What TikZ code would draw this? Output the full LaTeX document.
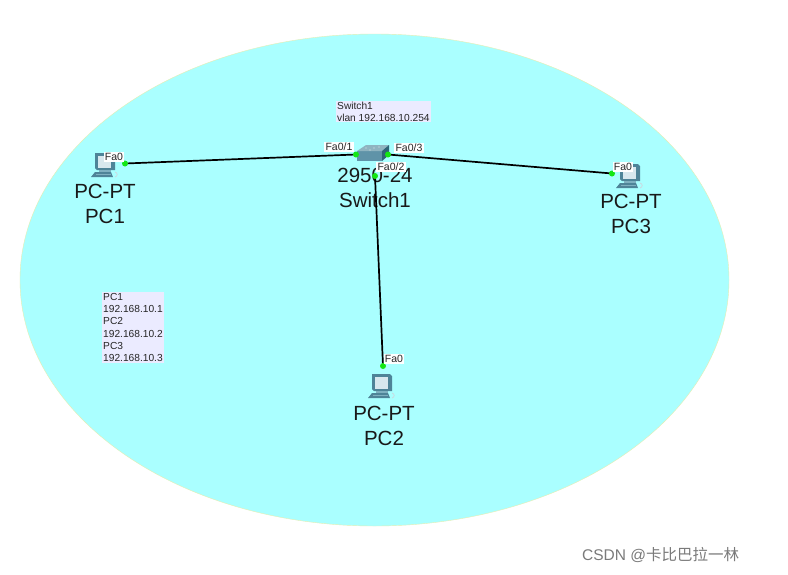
\documentclass[tikz,border=0pt]{standalone}
\usepackage{fontspec}
\usetikzlibrary{shapes.geometric}
\setmainfont{Liberation Sans}
\newfontfamily\cjk{Noto Sans CJK SC}
\definecolor{cloud}{HTML}{AAFFFF}
\definecolor{cloudedge}{HTML}{E6EDB0}
\definecolor{pcdark}{HTML}{4E8498}
\definecolor{pcmid}{HTML}{7FB0C0}
\definecolor{pcscreen}{HTML}{D8E8EE}
\definecolor{swtop}{HTML}{8FB4C0}
\definecolor{swfront}{HTML}{5F93A8}
\definecolor{swside}{HTML}{2F6478}
\definecolor{portgreen}{HTML}{14E614}
\tikzset{
  bigtext/.style={align=center,font=\fontsize{20.5}{24.5}\selectfont,text=black!90,inner sep=0pt},
  port/.style={fill=white,font=\fontsize{10.5}{12}\selectfont,text=black!85,inner xsep=1.2pt,inner ysep=1pt},
  note/.style={fill=white!92!blue,align=left,font=\fontsize{10.2}{12.3}\selectfont,text=black!85,inner xsep=1pt,inner ysep=1pt},
  linkline/.style={line width=1.7pt,black},
  dot/.style={circle,fill=portgreen,inner sep=0pt,minimum size=6pt},
  pc/.pic={
    \fill[pcdark] (-10,-12) -- (8,-12) -- (10,-10) -- (10,5) -- (-8,5) -- (-10,3) -- cycle;
    \fill[pcscreen] (-7,-9.5) -- (6,-9.5) -- (6,2.5) -- (-7,2.5) -- cycle;
    \fill[pcmid] (-6,5) -- (6,5) -- (6,7) -- (-6,7) -- cycle;
    \fill[pcdark] (-10,7) -- (6,7) -- (8,12) -- (-14,12) -- cycle;
    \draw[pcmid,line width=.7pt] (-9,9.5) -- (6,9.5);
    \draw[white!70!pcdark,line width=.8pt] (10,7) .. controls (13,8) and (13,11) .. (10,12);
  }
}
\begin{document}
\begin{tikzpicture}[x=1pt,y=-1pt]
\useasboundingbox (0,0) rectangle (788,574);
\fill[white] (0,0) rectangle (788,574);
\node[draw=cloudedge,fill=cloud,ellipse,minimum width=709pt,minimum height=492pt,inner sep=0pt] (cloudarea) at (374.5,280) {};

% icons
\pic at (105,165) {pc};
\pic at (382,386) {pc};
\pic at (630,176) {pc};
\coordinate (sw) at (373,153);
\fill[swfront] (357,151) -- (382,151) -- (382,161) -- (357,161) -- cycle;
\fill[swtop] (357,151) -- (366,145) -- (389,145) -- (382,151) -- cycle;
\fill[swside] (382,151) -- (389,145) -- (389,155) -- (382,161) -- cycle;
\foreach \a/\b in {366/148,374/148,370/150,379/147}{\fill[white!75!swtop] (\a,\b) circle (.7);}

% big labels
\node[bigtext] (pc1label) at (105,204) {PC-PT\\PC1};
\node[bigtext] (swlabel) at (375,188) {2950-24\\Switch1};
\node[bigtext] (pc3label) at (631,214) {PC-PT\\PC3};
\node[bigtext] (pc2label) at (384,426) {PC-PT\\PC2};

% ports
\coordinate (p1) at (125,163.5);
\coordinate (s1) at (356,154.5);
\coordinate (s2) at (375,176);
\coordinate (s3) at (388,154.5);
\coordinate (p2) at (383,366);
\coordinate (p3) at (612,173.5);

% links
\draw[linkline] (p1) -- (s1);
\draw[linkline] (s2) -- (p2);
\draw[linkline] (s3) -- (p3);
\foreach \c in {p1,s1,s2,s3,p2,p3}{\node[dot] (dot\c) at (\c) {};}

% port labels
\node[port] (lp1) at (114,157) {Fa0};
\node[port] (ls1) at (339,147) {Fa0/1};
\node[port] (ls2) at (391,167) {Fa0/2};
\node[port] (ls3) at (409,148) {Fa0/3};
\node[port] (lp2) at (394,359) {Fa0};
\node[port] (lp3) at (623,167) {Fa0};

% notes
\node[note,anchor=north west] (noteswitch) at (336,100.5) {Switch1\\vlan 192.168.10.254};
\node[note,anchor=north west] (notepcs) at (102,292) {PC1\\192.168.10.1\\PC2\\192.168.10.2\\PC3\\192.168.10.3};

% watermark
\node[anchor=west,inner sep=0pt,text=black!52,font=\fontsize{15.5}{18}\selectfont] (csdn) at (582,555) {CSDN @{\cjk 卡比巴拉一林}};
\end{tikzpicture}
\end{document}
